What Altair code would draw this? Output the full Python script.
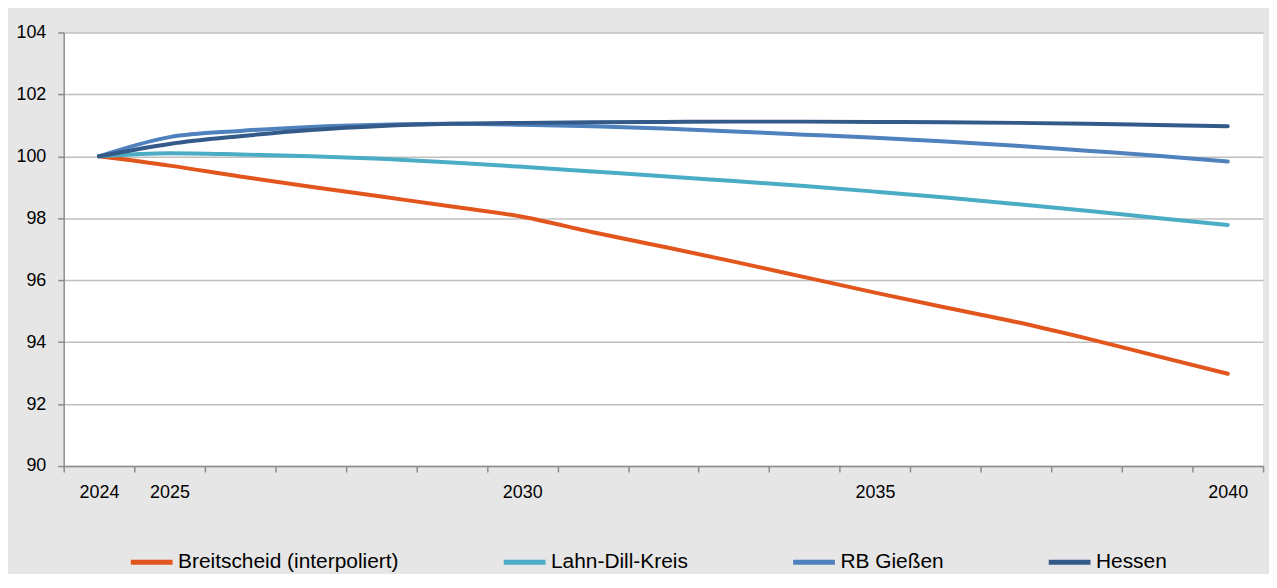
import altair as alt
import pandas as pd

years = [str(y) for y in range(2024, 2041)]
series = ["Breitscheid (interpoliert)", "Lahn-Dill-Kreis", "RB Gießen", "Hessen"]
colors = ["#E2561E", "#4BACC6", "#4F81BD", "#345A8A"]
shown_labels = ["2024", "2025", "2030", "2035", "2040"]

breitscheid = [100.0, 99.7, 99.35, 99.02, 98.7, 98.38, 98.05, 97.55, 97.08, 96.6, 96.1,
               95.6, 95.12, 94.65, 94.12, 93.55, 92.98]
lahn_dill = [100.0, 100.1, 100.06, 100.0, 99.92, 99.8, 99.66, 99.51, 99.36, 99.2, 99.04,
             98.86, 98.67, 98.46, 98.24, 98.01, 97.78]
rb_giessen = [100.0, 100.62, 100.82, 100.95, 101.02, 101.05, 101.02, 100.97, 100.9, 100.8,
              100.7, 100.6, 100.48, 100.34, 100.18, 100.02, 99.83]
hessen = [100.0, 100.4, 100.65, 100.85, 100.98, 101.05, 101.08, 101.1, 101.11, 101.12,
          101.12, 101.11, 101.1, 101.08, 101.05, 101.01, 100.97]

rows = []
for name, vals in zip(series, [breitscheid, lahn_dill, rb_giessen, hessen]):
    for yr, v in zip(years, vals):
        rows.append({"Jahr": yr, "Serie": name, "Wert": v})
df = pd.DataFrame(rows)

FONT = "Liberation Sans, Arial, sans-serif"
label_expr = "indexof(" + str(shown_labels) + ", datum.value) >= 0 ? datum.value : ''"

chart = alt.Chart(df).mark_line(
    strokeWidth=4, interpolate="monotone", strokeCap="round", strokeJoin="round"
).encode(
    x=alt.X("Jahr:O", sort=years,
            scale=alt.Scale(type="band", paddingInner=0, paddingOuter=0),
            axis=alt.Axis(title=None, labelAngle=0, tickBand="extent", labelExpr=label_expr,
                          labelOverlap=False, grid=False, tickSize=6, labelPadding=12,
                          labelFontSize=18, labelFont=FONT, labelColor="#000000",
                          domainColor="#8C8C8C", domainWidth=1.5, tickColor="#8C8C8C",
                          tickWidth=1.5)),
    y=alt.Y("Wert:Q", scale=alt.Scale(domain=[90, 104], nice=False, zero=False),
            axis=alt.Axis(title=None, values=list(range(90, 105, 2)), tickSize=6,
                          labelPadding=12, labelFontSize=18, labelFont=FONT,
                          labelColor="#000000", domainColor="#8C8C8C", domainWidth=1.5,
                          tickColor="#8C8C8C", tickWidth=1.5, gridColor="#BFBFBF",
                          gridWidth=1.5)),
    color=alt.Color("Serie:N", scale=alt.Scale(domain=series, range=colors),
                    legend=alt.Legend(title=None, orient="none", legendX=65, legendY=509,
                                      direction="horizontal", columns=4,
                                      symbolType="stroke", symbolSize=1764,
                                      symbolStrokeWidth=5, labelFontSize=21,
                                      labelFont=FONT, labelColor="#000000",
                                      labelOffset=3, columnPadding=95, labelLimit=500)),
).properties(
    width=1206, height=436,
    autosize=alt.AutoSizeParams(type="none"),
    padding={"left": 56, "top": 23, "right": 6, "bottom": 107},
).configure(background="#E6E6E6").configure_view(fill="white", strokeWidth=0)

chart.save("out.html", embed_options={"renderer": "svg", "actions": False})
